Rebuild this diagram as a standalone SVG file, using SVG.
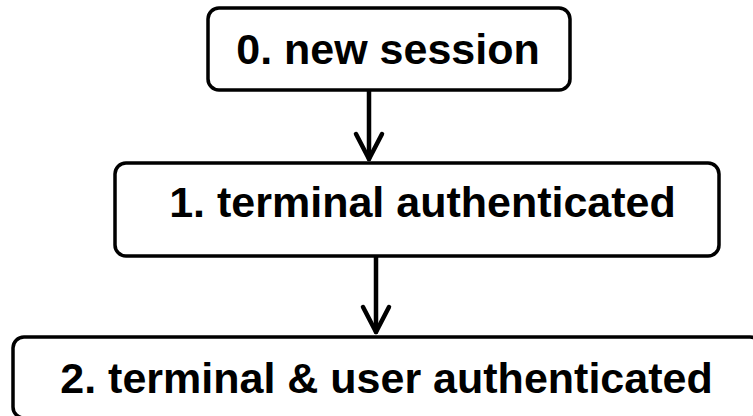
<svg xmlns="http://www.w3.org/2000/svg" width="753" height="416" viewBox="0 0 753 416">
  <style>
    .box { fill: #ffffff; stroke: #000000; stroke-width: 3.5; }
    .label { font-family: "Liberation Sans", Arial, sans-serif; font-weight: bold; font-size: 43px; fill: #000000; text-anchor: middle; }
    .edge { stroke: #000000; stroke-width: 4.5; fill: none; stroke-linecap: round; }
  </style>
  <defs>
    <marker id="arrow" markerUnits="userSpaceOnUse" markerWidth="40" markerHeight="40" viewBox="-30 -20 40 40" refX="0" refY="0" orient="auto" overflow="visible">
      <path d="M-25,-13 L0,0 L-25,13" fill="none" stroke="#000000" stroke-width="4.5" stroke-linecap="round" stroke-linejoin="round"/>
    </marker>
  </defs>
  <rect width="753" height="416" fill="#ffffff"/>
  <g id="connectors">
    <line class="edge" x1="369" y1="90" x2="369" y2="159" marker-end="url(#arrow)"/>
    <line class="edge" x1="376" y1="257" x2="376" y2="332" marker-end="url(#arrow)"/>
  </g>
  <g id="node0">
    <rect class="box" x="208" y="8" width="362" height="82" rx="11"/>
    <text class="label" x="388" y="64">0. new session</text>
  </g>
  <g id="node1">
    <rect class="box" x="115" y="163" width="604" height="93" rx="11"/>
    <text class="label" x="422.5" y="217">1. terminal authenticated</text>
  </g>
  <g id="node2">
    <rect class="box" x="13" y="337" width="748" height="81" rx="11"/>
    <text class="label" x="386.5" y="393">2. terminal &amp; user authenticated</text>
  </g>
</svg>
